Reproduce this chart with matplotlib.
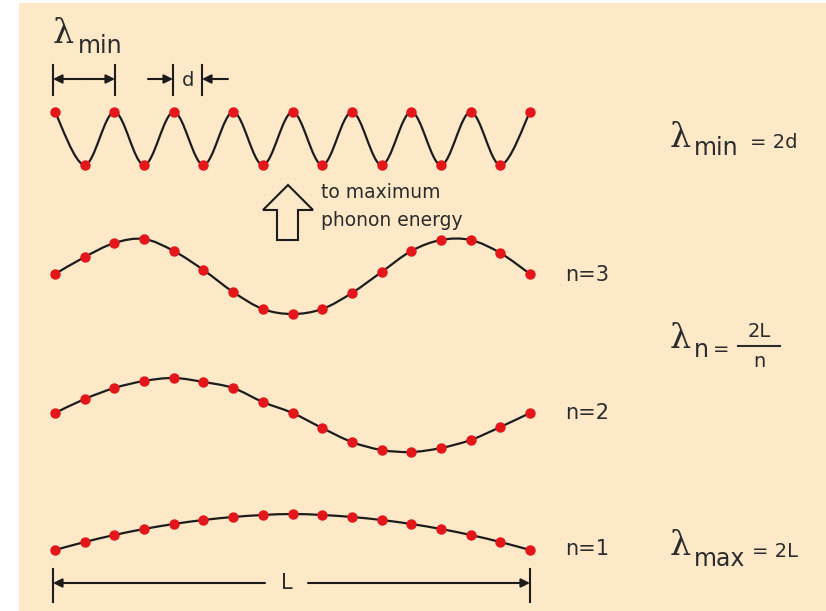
import numpy as np
import matplotlib
matplotlib.use('Agg')
import matplotlib.pyplot as plt
from matplotlib.path import Path
from matplotlib.patches import PathPatch, Polygon, Rectangle

# Atom displacements (pixels, upward positive), 17 atoms per chain
disp_min = [27, -26, 27, -26, 27, -26, 27, -26, 27, -26, 27, -26, 27, -26, 27, -26, 27]
disp_n3 = [2, 19, 33, 37, 25, 6, -16, -33, -38, -33, -17, 4, 25, 36, 36, 23, 2]
disp_n2 = [1, 15, 26, 33, 36, 32, 26, 12, 1, -14, -28, -36, -38, -34, -26, -13, 1]
disp_n1 = [0, 8, 15, 21, 26, 30, 33, 35, 36, 35, 33, 30, 26, 21, 15, 8, 0]

mode_labels = ['n=3', 'n=2', 'n=1']

# layout (pixel coordinates, y down)
W, H = 826, 611
x_start, x_end = 55, 530
rest_lines = [139, 276, 414, 550]
bg = '#FDE8C8'
red = '#E3171B'
ink = '#1c1c1c'
txt = '#2b2b2b'
lam_font = 'DejaVu Serif'


def smooth_path(xs, ys):
    # Catmull-Rom through the atoms, drawn as cubic Bezier segments
    n = len(xs)
    verts = [(xs[0], ys[0])]
    codes = [Path.MOVETO]
    for i in range(n - 1):
        a = max(i - 1, 0)
        b = min(i + 2, n - 1)
        c1 = (xs[i] + (xs[i + 1] - xs[a]) / 6, ys[i] + (ys[i + 1] - ys[a]) / 6)
        c2 = (xs[i + 1] - (xs[b] - xs[i]) / 6, ys[i + 1] - (ys[b] - ys[i]) / 6)
        verts += [c1, c2, (xs[i + 1], ys[i + 1])]
        codes += [Path.CURVE4] * 3
    return Path(verts, codes)


fig = plt.figure(figsize=(W / 100, H / 100), dpi=100)
ax = fig.add_axes([0, 0, 1, 1])
ax.set_xlim(0, W)
ax.set_ylim(H, 0)
ax.axis('off')
ax.add_patch(Rectangle((19, 3), W - 19, H - 3, facecolor=bg, edgecolor='none', zorder=0))

xs = np.linspace(x_start, x_end, len(disp_n1))
for disp, rest in zip([disp_min, disp_n3, disp_n2, disp_n1], rest_lines):
    ys = rest - np.array(disp, dtype=float)
    ax.add_patch(PathPatch(smooth_path(xs, ys), facecolor='none', edgecolor=ink, lw=1.6, zorder=2))
    ax.plot(xs, ys, 'o', color=red, markersize=7.5, markeredgewidth=0, zorder=3)

# mode labels
for lab, rest in zip(mode_labels, rest_lines[1:]):
    ax.text(565, rest + 5, lab, fontsize=15, color=txt, ha='left', va='baseline')


def arrow(x0, x1, y, style='-|>'):
    ax.annotate('', xy=(x1, y), xytext=(x0, y),
                arrowprops=dict(arrowstyle=style, color=ink, lw=1.5, mutation_scale=13,
                                shrinkA=0, shrinkB=0))


def tick(x, y0, y1):
    ax.plot([x, x], [y0, y1], color=ink, lw=1.5)


# lambda_min dimension
ax.text(53, 43, 'λ', fontsize=24, family=lam_font, color=txt, va='baseline')
ax.text(78, 53, 'min', fontsize=17, color=txt, va='baseline')
tick(53, 65, 95)
tick(115, 65, 95)
arrow(84, 53, 79)
arrow(84, 115, 79)

# d dimension
tick(173, 65, 95)
tick(202, 65, 95)
arrow(148, 173, 79)
arrow(228, 202, 79)
ax.text(188, 80, 'd', fontsize=14, color=txt, ha='center', va='center')

# hollow up arrow
ax.add_patch(Polygon([(277, 240), (277, 210), (263, 210), (288, 185), (313, 210),
                      (298, 210), (298, 240)], closed=True, facecolor='none',
                     edgecolor=ink, lw=1.5, zorder=2))
ax.text(321, 198, 'to maximum', fontsize=13.5, color=txt, va='baseline')
ax.text(321, 226, 'phonon energy', fontsize=13.5, color=txt, va='baseline')

# L dimension
tick(53, 569, 602)
tick(530, 569, 602)
arrow(265, 53, 583)
arrow(308, 530, 583)
ax.text(287, 583, 'L', fontsize=15, color=txt, ha='center', va='center')

# formulas on the right
ax.text(670, 147, 'λ', fontsize=24, family=lam_font, color=txt, va='baseline')
ax.text(694, 155, 'min', fontsize=17, color=txt, va='baseline')
ax.text(750, 148, '= 2d', fontsize=14, color=txt, va='baseline')

ax.text(670, 348, 'λ', fontsize=24, family=lam_font, color=txt, va='baseline')
ax.text(694, 357, 'n', fontsize=17, color=txt, va='baseline')
ax.text(713, 350, '=', fontsize=14, color=txt, va='center')
ax.text(759, 337, '2L', fontsize=14, color=txt, ha='center', va='baseline')
ax.plot([738, 780], [346, 346], color=txt, lw=1.5)
ax.text(759, 367, 'n', fontsize=14, color=txt, ha='center', va='baseline')

ax.text(670, 555, 'λ', fontsize=24, family=lam_font, color=txt, va='baseline')
ax.text(694, 566, 'max', fontsize=17, color=txt, va='baseline')
ax.text(752, 557, '= 2L', fontsize=14, color=txt, va='baseline')

fig.savefig('out.png', dpi=100)
